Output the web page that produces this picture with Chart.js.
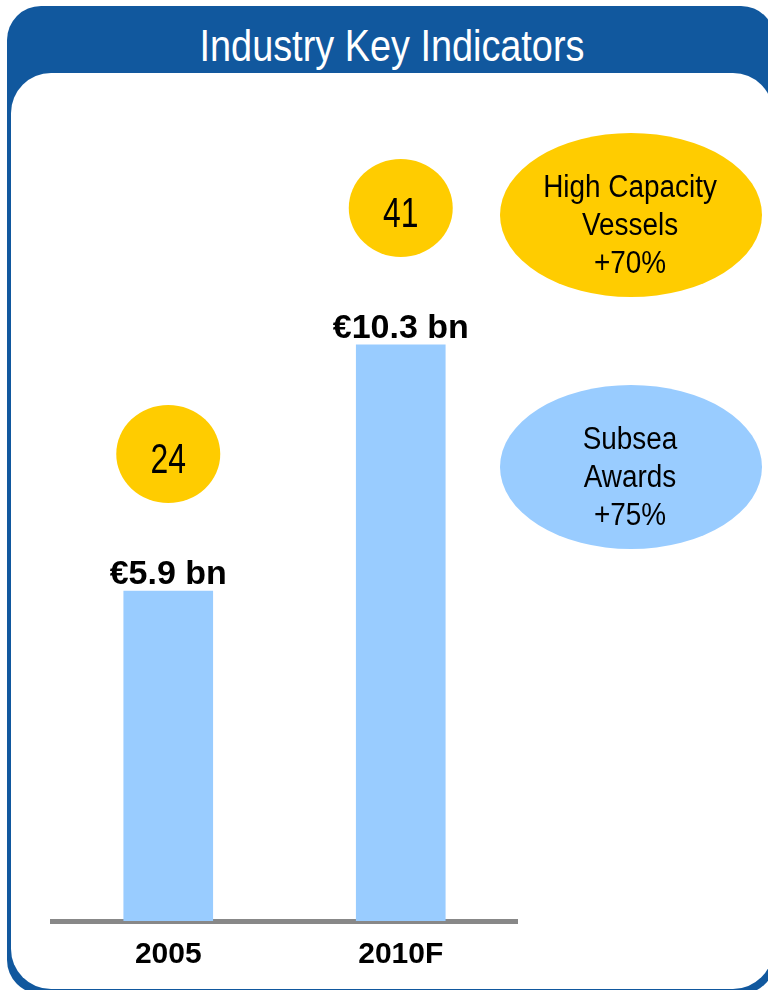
<!DOCTYPE html>
<html>
<head>
<meta charset="utf-8">
<script src="https://cdn.jsdelivr.net/npm/chart.js@4/dist/chart.umd.min.js"></script>
<style>
    body { margin: 0; background: #ffffff; }
    #page { position: relative; width: 768px; height: 990px; overflow: hidden; }
    #frame { position: absolute; left: 7px; top: 6px; width: 768px; height: 988px; background: #11589e; border-radius: 34px; }
    #inner { position: absolute; left: 11px; top: 73px; width: 762px; height: 916px; background: #ffffff; border-radius: 40px; }
    #title { position: absolute; left: 0; top: 20px; width: 784px; text-align: center; color: #ffffff;
             font-family: 'Liberation Sans', sans-serif; font-size: 44px; line-height: 52px;
             transform: scaleX(0.86); transform-origin: 392px 0; }
    #chart { position: absolute; left: 0; top: 0; }
</style>
</head>
<body>
<div id="page">
    <div id="frame"></div>
    <div id="inner"></div>
    <div id="title">Industry Key Indicators</div>
    <canvas id="chart" width="768" height="990"></canvas>
</div>
<script>
const years = ['2005', '2010F'];
const marketValues = [5.9, 10.3];        // € bn
const vesselCounts = [24, 41];
const indicatorLines = [['High Capacity', 'Vessels', '+70%'], ['Subsea', 'Awards', '+75%']];
const indicatorColours = ['#ffcc00', '#99ccff'];

// no narrow font installed, so squeeze the regular one
function narrowText(ctx, text, x, y, size, squeeze) {
    ctx.save();
    ctx.translate(x, y);
    ctx.scale(squeeze, 1);
    ctx.font = size + "px 'Liberation Sans', Arial, sans-serif";
    ctx.fillText(text, 0, 0);
    ctx.restore();
}

const annotations = {
    id: 'annotations',
    afterDatasetsDraw(chart) {
        const ctx = chart.ctx;
        const bars = chart.getDatasetMeta(0).data;
        ctx.save();
        ctx.textAlign = 'center';
        ctx.textBaseline = 'alphabetic';

        bars.forEach((bar, i) => {
            // value label above bar
            ctx.fillStyle = '#000000';
            ctx.font = "bold 34px 'Liberation Sans', Arial, sans-serif";
            ctx.fillText('€' + marketValues[i].toFixed(1) + ' bn', bar.x, bar.y - 7);

            // vessel count bubble
            const cy = bar.y - 137;
            ctx.fillStyle = '#ffcc00';
            ctx.beginPath();
            ctx.ellipse(bar.x, cy, 52, 49, 0, 0, Math.PI * 2);
            ctx.fill();
            ctx.fillStyle = '#000000';
            narrowText(ctx, String(vesselCounts[i]), bar.x, cy + 19, 42, 0.76);
        });

        // growth ellipses on the right
        const centresY = [215, 467];
        indicatorLines.forEach((lines, i) => {
            ctx.fillStyle = indicatorColours[i];
            ctx.beginPath();
            ctx.ellipse(631, centresY[i], 131, 82, 0, 0, Math.PI * 2);
            ctx.fill();
            ctx.fillStyle = '#000000';
            lines.forEach((t, j) => {
                narrowText(ctx, t, 630, centresY[i] - 18 + j * 38, 31, 0.9);
            });
        });
        ctx.restore();
    }
};

new Chart('chart', {
    type: 'bar',
    data: {
        labels: years,
        datasets: [{
            data: marketValues,
            backgroundColor: '#99ccff',
            borderWidth: 0,
            barThickness: 89
        }]
    },
    options: {
        responsive: false,
        animation: false,
        layout: { padding: { left: 52, right: 251, top: 138, bottom: 9 } },
        plugins: { legend: { display: false }, tooltip: { enabled: false } },
        scales: {
            x: {
                grid: { display: false },
                border: { display: true, color: '#888888', width: 5 },
                ticks: {
                    color: '#000000',
                    padding: 8,
                    font: { family: "'Liberation Sans', Arial, sans-serif", weight: 'bold', size: 30 }
                }
            },
            y: { display: false, min: 0, max: 14 }
        }
    },
    plugins: [annotations]
});
</script>
</body>
</html>
